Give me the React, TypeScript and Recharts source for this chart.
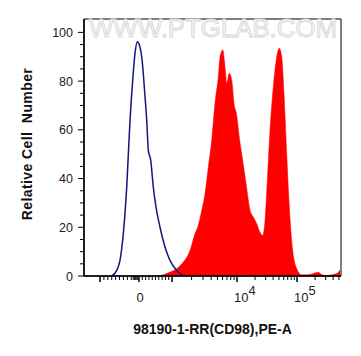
import { ComposedChart, Area, Line, XAxis, YAxis, ReferenceArea } from 'recharts'

// x values are positions on the logicle display scale (10^4 -> 4, 10^5 -> 5, 0 -> ~2.37)
const controlX = [1.912, 1.995, 2.05, 2.105, 2.162, 2.217, 2.262, 2.3, 2.338, 2.372, 2.412, 2.467, 2.495, 2.522, 2.562, 2.605, 2.65, 2.717, 2.8, 2.883, 2.995, 3.105]
const controlY = [0, 2.3, 6.4, 17.4, 36.5, 64, 80.5, 91.4, 96.2, 94.9, 90, 73.6, 64, 51.6, 47.5, 36.5, 28.3, 20, 11.9, 6.4, 2.3, 0]

const cd98X = [2.662, 2.772, 2.883, 2.995, 3.105, 3.217, 3.3, 3.355, 3.412, 3.467, 3.522, 3.578, 3.633, 3.688, 3.717, 3.762, 3.8, 3.828, 3.872, 3.912, 3.95, 3.995, 4.038, 4.095, 4.15, 4.217, 4.272, 4.328, 4.383, 4.428, 4.467, 4.505, 4.55, 4.605, 4.662, 4.705, 4.745, 4.783, 4.828, 4.872, 4.928, 4.995, 5.078, 5.183, 5.272, 5.35, 5.417, 5.495, 5.583, 5.662, 5.717]
const cd98Y = [0, 0.5, 1.6, 3, 5.7, 10.5, 17.4, 20.8, 27, 33.8, 44.8, 55.8, 70.9, 81.8, 90, 92.8, 86, 79, 83.2, 80.5, 70.9, 66, 57, 47.5, 38, 27, 24.2, 21.5, 18, 16.7, 22.8, 39.3, 59.9, 77.7, 90, 93.5, 90, 75, 50.3, 28.3, 10.5, 3, 0.5, 0.5, 1, 1.5, 0.5, 0.2, 0.5, 1, 2.5]

const yTickValues = [0, 5, 10, 15, 20, 25, 30, 35, 40, 45, 50, 55, 60, 65, 70, 75, 80, 85, 90, 95, 100]
const yTickLabels = [0, 20, 40, 60, 80, 100]

// major ticks: -10^3, 0, 10^3, 10^4, 10^5
const xMajorTicks = [1.717, 2.367, 2.917, 4, 5]
const xLabelPos = [2.367, 4, 5]
const xLabelBase = ['0', '10', '10']
const xLabelExp = ['', '4', '5']

const X_DOMAIN = [1.45, 5.733]
const Y_DOMAIN = [0, 105.5]

const controlData = controlX.map((x, i) => ({ x, y: controlY[i] }))
const cd98Data = cd98X.map((x, i) => ({ x, y: cd98Y[i] }))

const minorTicks: number[] = []
for (let i = 1; i < 10; i++) {
  minorTicks.push(1.717 + i * 0.065)
  minorTicks.push(2.367 + i * 0.055)
}
for (const v of [2.27, 2.295, 2.32, 2.345]) minorTicks.push(v)
for (let k = 2; k < 10; k++) {
  minorTicks.push(2.917 + Math.log10(k) * 1.083)
  minorTicks.push(4 + Math.log10(k))
  if (5 + Math.log10(k) < X_DOMAIN[1]) minorTicks.push(5 + Math.log10(k))
}
const xTicks = [...xMajorTicks, ...minorTicks].sort((a, b) => a - b)

const tickFont = '"Liberation Sans", Arial, sans-serif'

const XTick = (props: any) => {
  const { x, y, payload } = props
  const v = payload.value
  const major = xMajorTicks.some((m) => Math.abs(m - v) < 1e-6)
  const li = xLabelPos.findIndex((p) => Math.abs(p - v) < 1e-6)
  return (
    <g>
      <line x1={x} x2={x} y1={y} y2={y + (major ? 6 : 4)} stroke="#000" strokeWidth={major ? 1.5 : 1} />
      {li >= 0 && xLabelExp[li] === '' && (
        <text x={x + 1} y={y + 26} textAnchor="middle" fontSize={13} fontFamily={tickFont} fill="#222">
          {xLabelBase[li]}
        </text>
      )}
      {li >= 0 && xLabelExp[li] !== '' && (
        <text x={x - 3} y={y + 26} textAnchor="start" fontSize={13} fontFamily={tickFont} fill="#222">
          {xLabelBase[li]}
          <tspan dy={-7} fontSize={13}>{xLabelExp[li]}</tspan>
        </text>
      )}
    </g>
  )
}

const YTick = (props: any) => {
  const { x, y, payload } = props
  const v = payload.value
  const major = yTickLabels.includes(v)
  return (
    <g>
      <line x1={x - (major ? 6 : 4)} x2={x} y1={y} y2={y} stroke="#000" strokeWidth={1} />
      {major && (
        <text x={x - 11} y={y + 4.5} textAnchor="end" fontSize={12.5} fontFamily={tickFont} fill="#222">
          {v}
        </text>
      )}
    </g>
  )
}

export default function App() {
  return (
    <div style={{ position: 'absolute', left: 0, top: 0, width: 361, height: 356, background: '#fff' }}>
      <ComposedChart width={361} height={356} margin={{ top: 19, right: 20, bottom: 40, left: 24 }}>
        <XAxis
          dataKey="x"
          type="number"
          domain={X_DOMAIN}
          allowDataOverflow
          ticks={xTicks}
          interval={0}
          tick={<XTick />}
          tickLine={false}
          tickSize={0}
          tickMargin={0}
          height={40}
          axisLine={{ stroke: '#000', strokeWidth: 1.5 }}
          label={{
            content: () => (
              <text x={212.5} y={334} textAnchor="middle" fontSize={14} fontWeight="bold" fontFamily={tickFont} fill="#111">
                98190-1-RR(CD98),PE-A
              </text>
            ),
          }}
        />
        <YAxis
          type="number"
          domain={Y_DOMAIN}
          allowDataOverflow
          ticks={yTickValues}
          interval={0}
          tick={<YTick />}
          tickLine={false}
          tickSize={0}
          tickMargin={0}
          width={60}
          axisLine={{ stroke: '#000', strokeWidth: 1.5 }}
          label={{
            content: () => (
              <text
                x={32}
                y={144}
                transform="rotate(-90 32 144)"
                textAnchor="middle"
                fontSize={14}
                fontWeight="bold"
                letterSpacing={0.4}
                fontFamily={tickFont}
                fill="#111"
                style={{ whiteSpace: 'pre' }}
              >
                {'Relative Cell  Number'}
              </text>
            ),
          }}
        />
        <Area
          data={cd98Data}
          dataKey="y"
          type="monotone"
          fill="#ff0000"
          fillOpacity={1}
          stroke="#ff0000"
          strokeWidth={0.5}
          isAnimationActive={false}
          dot={false}
          activeDot={false}
        />
        <Line
          data={controlData}
          dataKey="y"
          type="monotone"
          stroke="#14177a"
          strokeWidth={1.5}
          dot={false}
          activeDot={false}
          isAnimationActive={false}
        />
        <ReferenceArea x1={X_DOMAIN[0]} x2={X_DOMAIN[1]} y1={Y_DOMAIN[0]} y2={Y_DOMAIN[1]} fill="none" stroke="#000" strokeWidth={1} />
      </ComposedChart>
      <svg width={361} height={356} style={{ position: 'absolute', left: 0, top: 0, pointerEvents: 'none' }}>
        <text
          x={89}
          y={37}
          textLength={248}
          lengthAdjust="spacingAndGlyphs"
          fontSize={25}
          fontFamily={tickFont}
          fill="#f7f7f7"
          stroke="#d4d4d4"
          strokeWidth={0.8}
        >
          WWW.PTGLAB.COM
        </text>
      </svg>
    </div>
  )
}
